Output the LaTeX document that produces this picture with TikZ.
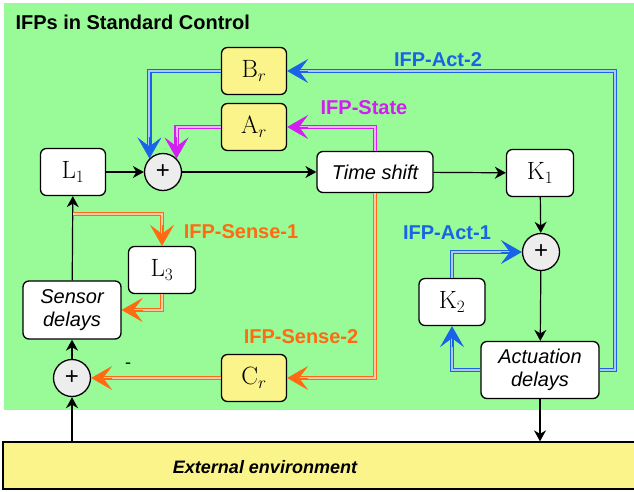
\documentclass[tikz,border=0pt]{standalone}
\usepackage{fontspec}
\setsansfont{Liberation Sans}
\usetikzlibrary{arrows.meta,calc}
\definecolor{bg}{HTML}{98FB98}
\definecolor{yel}{HTML}{FBF48A}
\definecolor{cblue}{HTML}{1A63E6}
\definecolor{cmag}{HTML}{D21EF0}
\definecolor{corange}{HTML}{FF6A13}
\definecolor{sumgray}{HTML}{EDEDED}
\tikzset{
  box/.style={draw, line width=1.3pt, rounded corners=6pt, fill=white, inner sep=0pt, align=center},
  mbox/.style={box, minimum width=65pt, minimum height=47pt, font=\fontsize{25}{28}\selectfont},
  ybox/.style={mbox, fill=yel},
  tbox/.style={box, font=\fontsize{20}{23}\selectfont\sffamily\itshape},
  sumc/.style={circle, draw, line width=1.3pt, fill=sumgray, minimum size=37pt, inner sep=0pt, font=\fontsize{24}{24}\selectfont\sffamily},
  arr/.style={line width=1.2pt, -{Stealth[length=11pt,width=12pt,inset=3.5pt]}},
  dbl/.style={draw=#1, double=#1!35, double distance=2pt, line width=1.25pt, shorten >=12pt},
  tipc/.style={draw=#1, fill=#1, line width=0.5pt, -{Stealth[length=21pt,width=24pt,inset=9pt]}},
  lab/.style={text=#1, font=\fontsize{20}{23}\selectfont\sffamily\bfseries}
}
\begin{document}
\begin{tikzpicture}[x=1pt,y=-1pt]
\useasboundingbox (0,0) rectangle (634,491);
\fill[bg] (4,3) rectangle (634,410);
\node[anchor=west, font=\fontsize{20}{23}\selectfont\sffamily\bfseries] (title) at (12,22) {IFPs in Standard Control};

\node[ybox] (Br) at (254,71) {$\mathrm{B}_r$};
\node[ybox] (Ar) at (254,127) {$\mathrm{A}_r$};
\node[mbox] (L1) at (73,172) {$\mathrm{L}_1$};
\node[sumc] (s1) at (163,172) {+};
\node[tbox, minimum width=116pt, minimum height=41pt] (ts) at (375,172) {Time shift};
\node[mbox, minimum width=67pt] (K1) at (540,173) {$\mathrm{K}_1$};
\node[sumc] (s2) at (541,252) {+};
\node[mbox, minimum width=66pt] (K2) at (452,302) {$\mathrm{K}_2$};
\node[tbox, minimum width=118pt, minimum height=57pt] (ad) at (540,370) {Actuation\\delays};
\node[mbox, minimum width=67pt] (L3) at (162,270) {$\mathrm{L}_3$};
\node[tbox, minimum width=98pt, minimum height=58pt] (sd) at (72,310) {Sensor\\delays};
\node[sumc] (s3) at (72,378) {+};
\node[ybox] (Cr) at (254,378) {$\mathrm{C}_r$};
\node[draw, line width=1.3pt, fill=yel, minimum width=645pt, minimum height=47pt, inner sep=0pt] (ext) at (325.5,465.5) {};
\node[font=\fontsize{18}{21}\selectfont\sffamily\bfseries\itshape] (extlab) at (265,467) {External environment};

% black connectors
\draw[arr] (L1) -- (s1);
\draw[arr] (s1) -- (ts);
\draw[arr] (ts) -- (K1);
\draw[arr] (K1) -- (s2);
\draw[arr] (s2) -- (ad);
\draw[arr] (ad.south) -- (ad.south |- ext.north);
\draw[arr] (ext.north -| s3) -- (s3);
\draw[arr] (s3) -- (sd);
\draw[arr] (sd) -- (L1);

% IFP-Act-2
\coordinate (rA2) at (615,0);
\draw[dbl=cblue] (ad.east) -- (ad.east -| rA2) -- (rA2 |- Br.east) -- (Br.east);
\draw[tipc=cblue] ([xshift=21pt]Br.east) -- (Br.east);
\draw[dbl=cblue] (Br.west) -| (s1.north west);
\draw[tipc=cblue] ([yshift=21pt]s1.north west) -- (s1.north west);
% IFP-State
\draw[dbl=cmag] (ts.north) |- (Ar.east);
\draw[tipc=cmag] ([xshift=21pt]Ar.east) -- (Ar.east);
\draw[dbl=cmag] (Ar.west) -| (s1.north east);
\draw[tipc=cmag] ([yshift=21pt]s1.north east) -- (s1.north east);
% IFP-Sense-2
\draw[dbl=corange] (ts.south) |- (Cr.east);
\draw[tipc=corange] ([xshift=21pt]Cr.east) -- (Cr.east);
\draw[dbl=corange] (Cr.west) -- (s3.east);
\draw[tipc=corange] ([xshift=21pt]s3.east) -- (s3.east);
% IFP-Sense-1
\coordinate (sp) at (73,214);
\draw[dbl=corange] (sp) -| (L3.north);
\draw[tipc=corange] ([yshift=21pt]L3.north) -- (L3.north);
\draw[dbl=corange] (L3.south) |- (sd.east);
\draw[tipc=corange] ([xshift=21pt]sd.east) -- (sd.east);
% IFP-Act-1
\draw[dbl=cblue] (ad.west) -| (K2.south);
\draw[tipc=cblue] ([yshift=-21pt]K2.south) -- (K2.south);
\draw[dbl=cblue] (K2.north) |- (s2.west);
\draw[tipc=cblue] ([xshift=-21pt]s2.west) -- (s2.west);

% labels
\node[lab=cblue] (lA2) at (438,60) {IFP-Act-2};
\node[lab=cmag] (lSt) at (364,108) {IFP-State};
\node[lab=corange] (lS1) at (241,232) {IFP-Sense-1};
\node[lab=corange] (lS2) at (301,337) {IFP-Sense-2};
\node[lab=cblue] (lA1) at (447,233) {IFP-Act-1};
\node[font=\fontsize{18}{20}\selectfont\sffamily] (minus) at (128,366) {-};
\end{tikzpicture}
\end{document}
